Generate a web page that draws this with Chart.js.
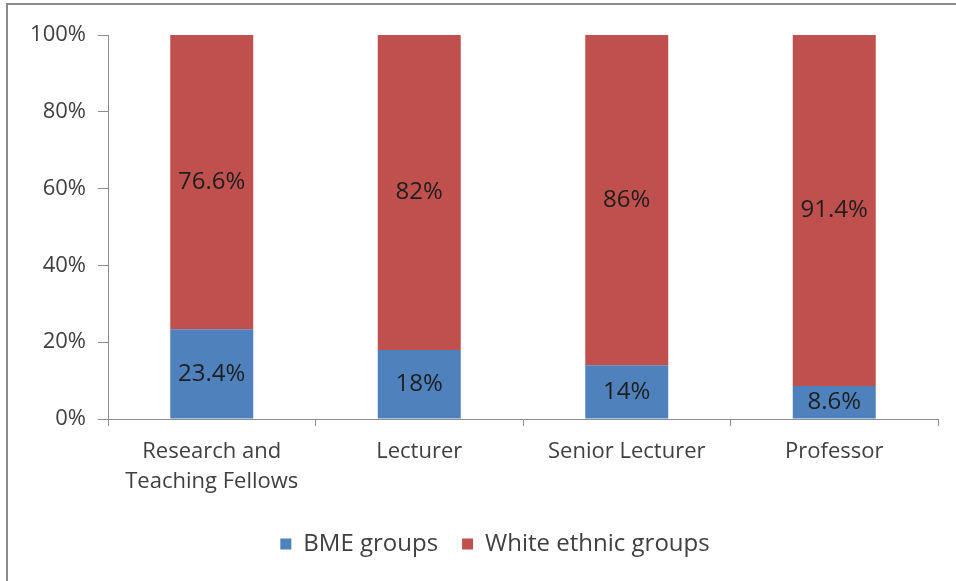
<!DOCTYPE html>
<html>
<head>
<meta charset="utf-8">
<script src="https://cdn.jsdelivr.net/npm/chart.js@4/dist/chart.umd.min.js"></script>
<style>
  html, body { margin: 0; padding: 0; background: #fff; }
  #wrap { position: relative; width: 956px; height: 581px; }
  #frameTop { position: absolute; left: 6px; top: 3px; width: 950px; height: 0; border-top: 2px solid #8a8a8a; }
  #frameLeft { position: absolute; left: 6px; top: 3px; width: 0; height: 578px; border-left: 2px solid #8a8a8a; }
</style>
</head>
<body>
<div id="wrap">
  <canvas id="chart" width="956" height="581"></canvas>
  <div id="frameTop"></div>
  <div id="frameLeft"></div>
</div>
<script>
// datos
const categories = [['Research and', 'Teaching Fellows'], 'Lecturer', 'Senior Lecturer', 'Professor'];
const bmeValues = [23.4, 18, 14, 8.6];
const whiteValues = [76.6, 82, 86, 91.4];
const yTicks = [0, 20, 40, 60, 80, 100];

const FONT = '"Open Sans", sans-serif';
const axisColor = '#8c8c8c';
const textColor = '#404040';

// etiquetas dentro de cada segmento
const segLabels = {
  id: 'segLabels',
  afterDatasetsDraw(chart) {
    const ctx = chart.ctx;
    ctx.save();
    ctx.font = '24px ' + FONT;
    ctx.fillStyle = '#1e1e1e';
    ctx.textAlign = 'center';
    ctx.textBaseline = 'middle';
    chart.data.datasets.forEach((ds, i) => {
      const meta = chart.getDatasetMeta(i);
      meta.data.forEach((bar, j) => {
        const p = bar.getProps(['x', 'y', 'base'], true);
        ctx.fillText(ds.data[j] + '%', p.x, (p.y + p.base) / 2);
      });
    });
    ctx.restore();
  }
};

// mover la leyenda un poco (como en el original de Excel)
const legendShift = {
  id: 'legendShift',
  afterLayout(chart) {
    const lg = chart.legend;
    if (!lg) return;
    const dx = 26;
    lg.left += dx; lg.right += dx;
    lg.top = 508; lg.bottom = 581;
    lg.height = lg.bottom - lg.top;
  }
};

const chart = new Chart(document.getElementById('chart').getContext('2d'), {
  type: 'bar',
  data: {
    labels: categories,
    datasets: [
      { label: 'BME groups', data: bmeValues, backgroundColor: '#4f81bd' },
      { label: 'White ethnic groups', data: whiteValues, backgroundColor: '#c0504d' }
    ]
  },
  options: {
    responsive: false,
    animation: false,
    layout: { padding: { top: 35, right: 18, left: 0, bottom: 18 } },
    datasets: { bar: { categoryPercentage: 1, barPercentage: 0.4 } },
    plugins: {
      tooltip: { enabled: false },
      legend: {
        position: 'bottom',
        maxHeight: 49,
        labels: {
          font: { family: FONT, size: 24 },
          color: textColor,
          boxWidth: 11,
          boxHeight: 11,
          padding: 24
        }
      }
    },
    scales: {
      x: {
        stacked: true,
        grid: { drawOnChartArea: false, offset: true, tickLength: 7, color: axisColor },
        border: { color: axisColor },
        ticks: { font: { family: FONT, size: 22, lineHeight: 1.4 }, color: textColor, padding: 10, maxRotation: 0 },
        afterFit(scale) { scale.height = 95; }
      },
      y: {
        stacked: true,
        min: 0,
        max: 100,
        afterBuildTicks(scale) { scale.ticks = yTicks.map(v => ({ value: v })); },
        grid: { drawOnChartArea: false, tickLength: 10, color: axisColor },
        border: { color: axisColor },
        ticks: { font: { family: FONT, size: 22 }, color: textColor, padding: 12, callback: v => v + '%' },
        afterFit(scale) { scale.width = 108; }
      }
    }
  },
  plugins: [segLabels, legendShift]
});
</script>
</body>
</html>
